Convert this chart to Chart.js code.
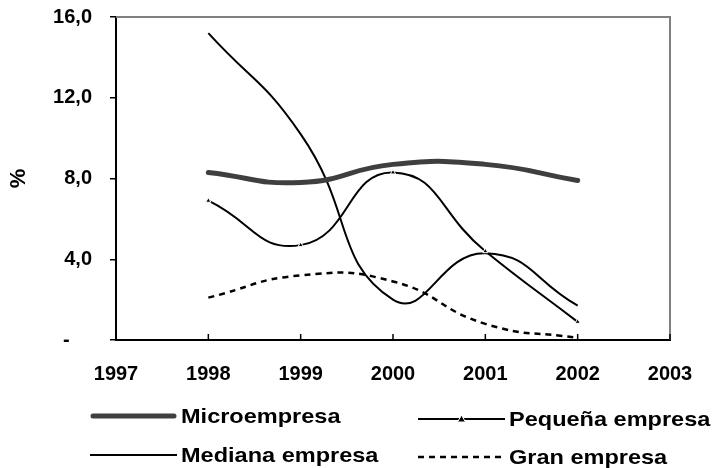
<!DOCTYPE html>
<html>
<head>
<meta charset="utf-8">
<script src="https://cdn.jsdelivr.net/npm/chart.js@4"></script>
<style>
  html, body { margin: 0; padding: 0; background: #fff; }
  #wrap { position: relative; width: 715px; height: 468px; }
  .item { position: absolute; display: flex; align-items: center; height: 30px; }
  .item span { font: bold 21px "Liberation Sans", Arial, sans-serif; color: #000; white-space: nowrap;
               display: inline-block; transform: scaleX(1.12); transform-origin: left center; }
  .item svg { display: block; }
</style>
</head>
<body>
<div id="wrap">
  <canvas id="chart"></canvas>
  <div id="legend"></div>
</div>
<script>
const years = [1998, 1999, 2000, 2001, 2002];
const micro = [8.3, 7.8, 8.7, 8.7, 7.9];
const pequena = [6.9, 4.7, 8.3, 4.4, 0.9];
const mediana = [15.2, 10.2, 2.0, 4.3, 1.7];
const gran = [2.1, 3.2, 2.9, 0.8, 0.1];
const seriesNames = ["Microempresa", "Pequeña empresa", "Mediana empresa", "Gran empresa"];
const xRange = [1997, 2003];
const yRange = [0, 16];

const toPoints = vals => years.map((y, i) => ({ x: y, y: vals[i] }));
const fontFamily = "'Liberation Sans', Arial, sans-serif";

// frame: grey top/right border + inward x tick marks
const framePlugin = {
  id: "frame",
  beforeDatasetsDraw(chart) {
    const { ctx, chartArea: a, scales } = chart;
    ctx.save();
    ctx.strokeStyle = "#808080";
    ctx.lineWidth = 2;
    ctx.beginPath();
    ctx.moveTo(a.left, a.top);
    ctx.lineTo(a.right, a.top);
    ctx.lineTo(a.right, a.bottom);
    ctx.stroke();
    ctx.strokeStyle = "#000";
    ctx.lineWidth = 1.5;
    scales.x.ticks.forEach(t => {
      const px = scales.x.getPixelForValue(t.value);
      ctx.beginPath();
      ctx.moveTo(px, a.bottom);
      ctx.lineTo(px, a.bottom - 6);
      ctx.stroke();
    });
    ctx.restore();
  }
};

const chart = new Chart(document.getElementById("chart"), {
  type: "line",
  data: {
    datasets: [
      { label: seriesNames[0], data: toPoints(micro), borderColor: "#3f3f3f", borderWidth: 5,
        borderCapStyle: "round", pointRadius: 0 },
      { label: seriesNames[1], data: toPoints(pequena), borderColor: "#000", borderWidth: 2,
        pointStyle: "triangle", pointRadius: 3, pointBackgroundColor: "#000",
        pointBorderColor: "#fff", pointBorderWidth: 1 },
      { label: seriesNames[2], data: toPoints(mediana), borderColor: "#000", borderWidth: 2, pointRadius: 0 },
      { label: seriesNames[3], data: toPoints(gran), borderColor: "#000", borderWidth: 2.5,
        borderDash: [6, 5], pointRadius: 0 }
    ]
  },
  options: {
    responsive: true,
    maintainAspectRatio: false,
    animation: false,
    elements: { line: { tension: 0.5 } },
    layout: { padding: { top: 17, right: 45, bottom: 78, left: 0 } },
    plugins: { legend: { display: false }, tooltip: { enabled: false } },
    scales: {
      x: {
        type: "linear",
        min: xRange[0],
        max: xRange[1],
        afterFit: s => { s.height = 50; },
        ticks: { stepSize: 1, padding: 22, color: "#000",
                 font: { family: fontFamily, size: 20, weight: "bold" }, callback: v => String(v) },
        grid: { display: false, drawTicks: false },
        border: { display: true, color: "#000", width: 2 }
      },
      y: {
        min: yRange[0],
        max: yRange[1],
        afterFit: s => { s.width = 116; s.paddingTop = 0; s.paddingBottom = 0; },
        ticks: {
          stepSize: 4, padding: 18, color: "#000",
          font: { family: fontFamily, size: 20, weight: "bold" },
          callback: v => v === 0 ? "-    " : v.toFixed(1).replace(".", ",")
        },
        grid: { drawOnChartArea: false, drawTicks: true, tickLength: 6, color: "#000", lineWidth: 1.5 },
        border: { display: true, color: "#000", width: 2 },
        title: { display: true, text: "%", color: "#000", padding: { top: 6, bottom: 0 },
                 font: { family: fontFamily, size: 22, weight: "bold" } }
      }
    }
  },
  plugins: [framePlugin]
});

// HTML legend, two columns
const legendSlots = [
  { left: 90, top: 401 }, { left: 418, top: 404 },
  { left: 90, top: 440 }, { left: 418, top: 442 }
];
const legendEl = document.getElementById("legend");
chart.data.datasets.forEach((ds, i) => {
  const slot = legendSlots[i];
  const w = 87, h = 30;
  const dash = ds.borderDash ? ` stroke-dasharray="${ds.borderDash.join(",")}"` : "";
  const cap = ds.borderCapStyle === "round" ? ' stroke-linecap="round"' : "";
  const x0 = ds.borderCapStyle === "round" ? 3 : 0, x1 = ds.borderCapStyle === "round" ? w - 3 : w;
  let svg = `<svg width="${w}" height="${h}"><line x1="${x0}" y1="${h / 2}" x2="${x1}" y2="${h / 2}" stroke="${ds.borderColor}" stroke-width="${ds.borderWidth}"${dash}${cap}/>`;
  if (ds.pointStyle === "triangle") {
    const c = w / 2, r = ds.pointRadius;
    svg += `<polygon points="${c},${h / 2 - r - 1} ${c - r - 1},${h / 2 + r} ${c + r + 1},${h / 2 + r}" fill="#000" stroke="#fff" stroke-width="1"/>`;
  }
  svg += "</svg>";
  const item = document.createElement("div");
  item.className = "item";
  item.style.left = slot.left + "px";
  item.style.top = slot.top + "px";
  item.innerHTML = svg + `<span style="margin-left:4px">${ds.label}</span>`;
  legendEl.appendChild(item);
});
</script>
</body>
</html>
